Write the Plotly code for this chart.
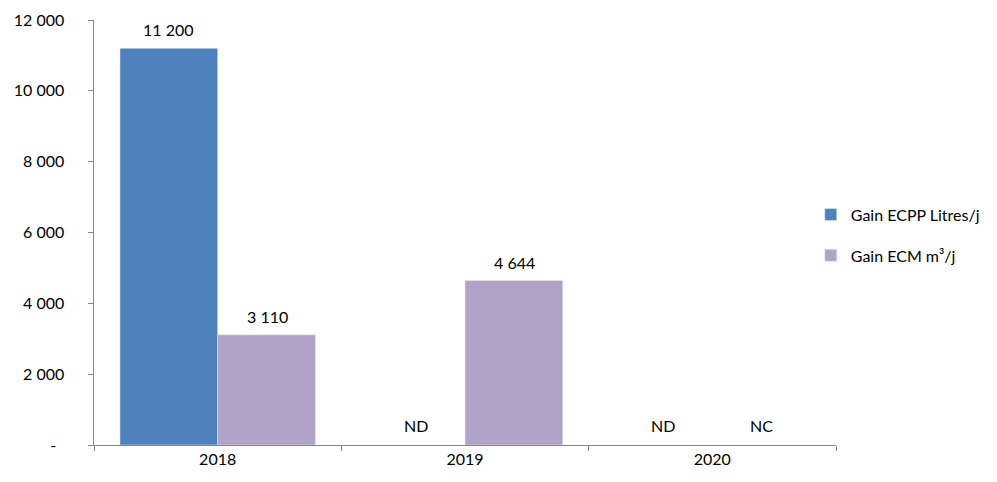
import plotly.graph_objects as go

years = ["2018", "2019", "2020"]
ecpp = [11200, None, None]
ecm = [3110, 4644, None]
ecpp_missing = [None, "ND", "ND"]
ecm_missing = [None, None, "NC"]
ytick_vals = [0, 2000, 4000, 6000, 8000, 10000, 12000]

def fmt(v):
    return "" if v is None else f"{v:,}".replace(",", " ")

font = "Lato, 'Open Sans', sans-serif"
fig = go.Figure()
fig.add_trace(go.Bar(x=years, y=ecpp, name="Gain ECPP Litres/j", marker_color="#4F81BD",
                     legendgroup="a"))
fig.add_trace(go.Bar(x=years, y=ecm, name="Gain ECM m³/j", marker_color="#B1A2C8",
                     legendgroup="b"))

for i in range(len(years)):
    for vals, miss, shift in ((ecpp, ecpp_missing, -49.5), (ecm, ecm_missing, 49.5)):
        v = vals[i]
        lab = fmt(v) if v is not None else miss[i]
        if lab:
            fig.add_annotation(x=i, y=v if v is not None else 0, xref="x", yref="y",
                               text=lab, showarrow=False, xshift=shift,
                               yanchor="bottom", yshift=7 if v is not None else 8,
                               font=dict(size=16, color="#000"))

pad = "\u00a0" * 5
fig.update_layout(
    width=989, height=474,
    margin=dict(l=86, r=159, t=12, b=37),
    paper_bgcolor="white", plot_bgcolor="white",
    font=dict(family=font, size=16, color="#000"),
    barmode="group", bargap=0.21, bargroupgap=0,
    showlegend=True,
    legend=dict(x=0.966, xanchor="left", y=0.494, yanchor="middle",
                font=dict(size=16), tracegroupgap=17, itemwidth=30),
    yaxis=dict(range=[0, 12000], tickmode="array", tickvals=ytick_vals, automargin=False,
               ticktext=["-" + "\u00a0" * 7] + [fmt(v) + pad for v in ytick_vals[1:]],
               showgrid=False, zeroline=False, showline=True, linecolor="#868686",
               ticks="outside", ticklen=5, tickcolor="#868686"),
    xaxis=dict(type="category", automargin=False, showline=True, linecolor="#868686",
               ticks="outside", ticklen=5, tickcolor="#868686",
               tickson="boundaries", showgrid=False),
)
fig.write_html("out.html")
